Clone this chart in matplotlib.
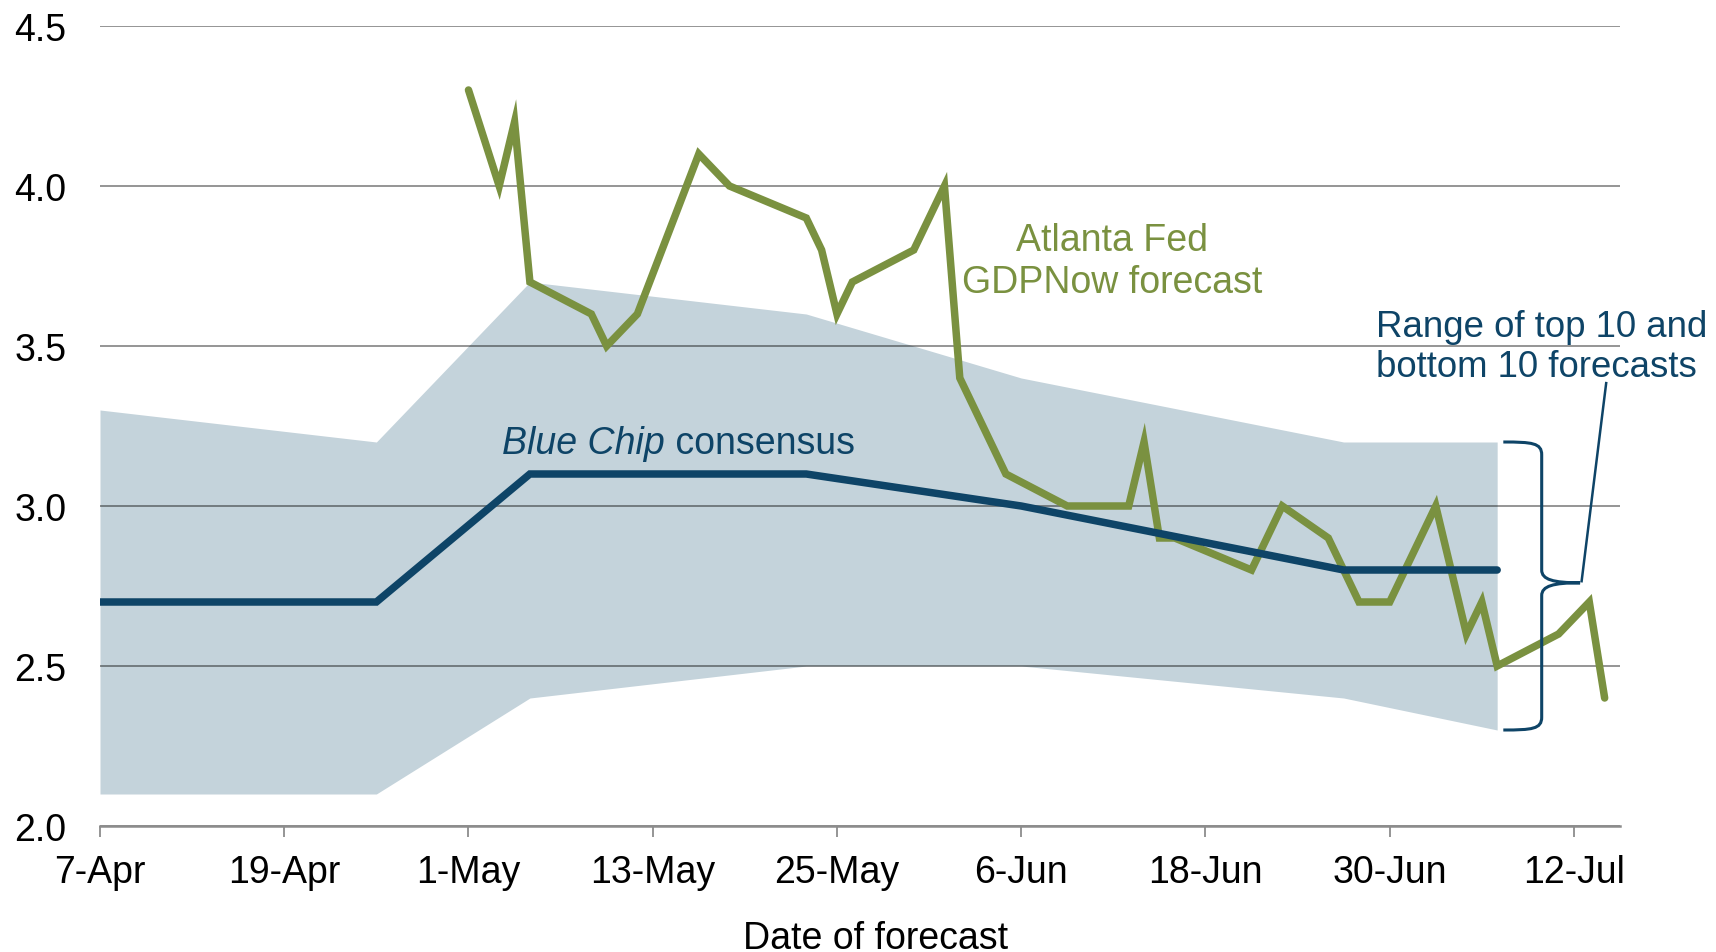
import numpy as np
import pandas as pd
import matplotlib
matplotlib.use('Agg')
import matplotlib.pyplot as plt
import matplotlib.dates as mdates
from matplotlib.path import Path
from matplotlib.patches import PathPatch

plt.rcParams['font.family'] = ['Liberation Sans', 'DejaVu Sans']

green = '#7a9140'
navy = '#0e4467'
band_color = '#c4d3db'

# Atlanta Fed GDPNow forecast
gdpnow_dates = ['2016-05-01', '2016-05-03', '2016-05-04', '2016-05-05', '2016-05-09',
                '2016-05-10', '2016-05-12', '2016-05-16', '2016-05-18', '2016-05-23',
                '2016-05-24', '2016-05-25', '2016-05-26', '2016-05-30', '2016-06-01',
                '2016-06-02', '2016-06-05', '2016-06-09', '2016-06-13', '2016-06-14',
                '2016-06-15', '2016-06-16', '2016-06-21', '2016-06-23', '2016-06-26',
                '2016-06-28', '2016-06-30', '2016-07-03', '2016-07-05', '2016-07-06',
                '2016-07-07', '2016-07-11', '2016-07-13', '2016-07-14']
gdpnow = [4.3, 4.0, 4.2, 3.7, 3.6, 3.5, 3.6, 4.1, 4.0, 3.9,
          3.8, 3.6, 3.7, 3.8, 4.0, 3.4, 3.1, 3.0, 3.0, 3.2,
          2.9, 2.9, 2.8, 3.0, 2.9, 2.7, 2.7, 3.0, 2.6, 2.7,
          2.5, 2.6, 2.7, 2.4]

# Blue Chip survey dates, consensus and top/bottom 10 averages
bc_dates = ['2016-04-07', '2016-04-25', '2016-05-05', '2016-05-23',
            '2016-06-06', '2016-06-27', '2016-07-07']
bc_consensus = [2.7, 2.7, 3.1, 3.1, 3.0, 2.8, 2.8]
bc_top10 = [3.3, 3.2, 3.7, 3.6, 3.4, 3.2, 3.2]
bc_bottom10 = [2.1, 2.1, 2.4, 2.5, 2.5, 2.4, 2.3]

tick_dates = pd.date_range('2016-04-07', '2016-07-12', freq='12D')
tick_labels = [f'{d.day}-{d:%b}' for d in tick_dates]
y_ticks = [2.0, 2.5, 3.0, 3.5, 4.0, 4.5]

gdpnow_dates = pd.to_datetime(gdpnow_dates)
bc_dates = pd.to_datetime(bc_dates)

fs = 27

fig = plt.figure(figsize=(17.16, 9.53), dpi=100)
ax = fig.add_axes([100 / 1716, 1 - 827 / 953, 1520 / 1716, 800 / 953])

ax.fill_between(bc_dates, bc_bottom10, bc_top10, color=band_color, lw=0, zorder=1)
ax.plot(gdpnow_dates, gdpnow, color=green, lw=5.4, solid_capstyle='round',
        solid_joinstyle='miter', zorder=3)
ax.plot(bc_dates, bc_consensus, color=navy, lw=5.4, solid_capstyle='round',
        solid_joinstyle='miter', zorder=4)

start = pd.Timestamp('2016-04-07')
ax.set_xlim(start, pd.Timestamp('2016-07-15'))
ax.set_ylim(2.0, 4.5)
ax.set_xticks(tick_dates)
ax.set_xticklabels(tick_labels)
ax.set_yticks(y_ticks)
ax.set_yticklabels([f'{v:.1f}' for v in y_ticks])

ax.grid(axis='y', color='black', alpha=0.45, lw=1.3)
for s in ['top', 'right', 'left']:
    ax.spines[s].set_visible(False)
ax.spines['bottom'].set_color('#8c8c8c')
ax.spines['bottom'].set_linewidth(1.8)
ax.tick_params(axis='x', length=8, width=1.3, color='#8c8c8c', pad=12, labelsize=fs)
ax.tick_params(axis='y', length=0, pad=24, labelsize=fs)

ax.set_xlabel('Date of forecast', fontsize=fs, va='top')
ax.xaxis.set_label_coords(0.5105, -0.117)

# labels (va='baseline' sits on the last line)
ax.text(start + pd.Timedelta(days=65.9), 3.669, 'Atlanta Fed\nGDPNow forecast',
        color=green, fontsize=fs, ha='center', va='baseline', multialignment='center')
t1 = ax.text(start + pd.Timedelta(days=26.2), 3.166, 'Blue Chip', color=navy,
             fontsize=fs, style='italic', ha='left', va='baseline')
ax.annotate(' consensus', xy=(1, 0), xycoords=t1, color=navy, fontsize=fs,
            ha='left', va='bottom')
ax.text(start + pd.Timedelta(days=83.1), 3.406, 'Range of top 10 and\nbottom 10 forecasts',
        color=navy, fontsize=26.4, ha='left', va='baseline')

# curly brace next to the end of the band
x0 = mdates.date2num(start)
a, b, c = x0 + 91.4, x0 + 93.9, x0 + 96.4
top, bot, mid = 3.2, 2.3, 2.76
verts = [(a, top), (a + 0.75 * (b - a), top), (b, top - 0.003), (b, top - 0.04),
         (b, mid + 0.04),
         (b, mid + 0.01), (b + 0.3 * (c - b), mid), (c, mid),
         (b + 0.3 * (c - b), mid), (b, mid - 0.01), (b, mid - 0.04),
         (b, bot + 0.04),
         (b, bot + 0.003), (a + 0.75 * (b - a), bot), (a, bot)]
codes = [Path.MOVETO, Path.CURVE4, Path.CURVE4, Path.CURVE4,
         Path.LINETO,
         Path.CURVE4, Path.CURVE4, Path.CURVE4,
         Path.CURVE4, Path.CURVE4, Path.CURVE4,
         Path.LINETO,
         Path.CURVE4, Path.CURVE4, Path.CURVE4]
ax.add_patch(PathPatch(Path(verts, codes), fill=False, edgecolor=navy, lw=2.2,
                       clip_on=False, zorder=5))
ax.plot([c + 0.1, x0 + 98.1], [mid + 0.005, 3.384], color=navy, lw=1.8,
        clip_on=False, zorder=5)

fig.savefig('out.png', dpi=100)
